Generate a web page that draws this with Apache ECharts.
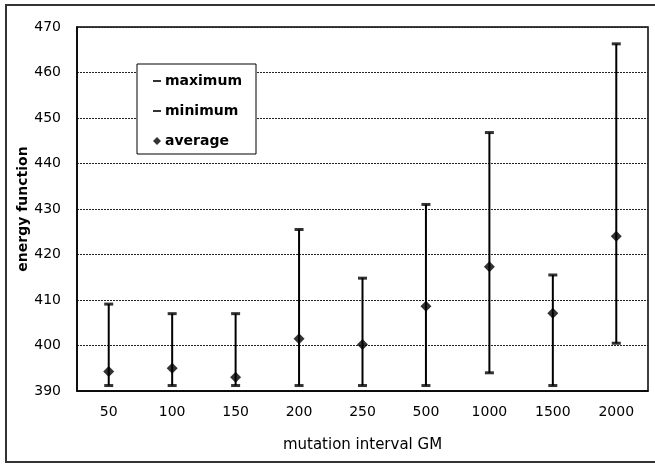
<!DOCTYPE html>
<html>
<head>
<meta charset="utf-8">
<script src="https://cdn.jsdelivr.net/npm/echarts@6/dist/echarts.min.js"></script>
<style>
	html, body { margin: 0; padding: 0; background: #fff; }
	#main { width: 655px; height: 464px; }
</style>
</head>
<body>
<div id="main"></div>
<script>
var categories = ['50', '100', '150', '200', '250', '500', '1000', '1500', '2000'];
var maxValues = [409.1, 407.0, 407.0, 425.5, 414.8, 431.0, 446.8, 415.5, 466.3];
var minValues = [391.2, 391.2, 391.2, 391.2, 391.2, 391.2, 394.0, 391.2, 400.5];
var avgValues = [394.3, 395.0, 393.0, 401.5, 400.2, 408.6, 417.3, 407.1, 424.0];

var rangeData = [];
categories.map(function(c, i) {
	rangeData.push([i, minValues[i], maxValues[i]]);
});

var dashIcon = 'path://M0,0L0,0M0,3H8V5H0ZM8,8L8,8';

var myChart = echarts.init(document.getElementById('main'));
var option = {
	backgroundColor: '#fff',
	animation: false,
	textStyle: {
		fontFamily: 'DejaVu Sans'
	},
	grid: {
		left: 77,
		right: 7,
		top: 27,
		bottom: 73,
		show: true,
		borderColor: '#000',
		borderWidth: 1.5
	},
	graphic: [{
		type: 'rect',
		shape: { x: 6, y: 5, width: 660, height: 457 },
		style: { fill: 'none', stroke: '#333', lineWidth: 2 },
		silent: true,
		z: -1
	}],
	legend: {
		left: 137,
		top: 64,
		orient: 'vertical',
		backgroundColor: '#fff',
		borderColor: '#000',
		borderWidth: 1,
		padding: [10, 14, 6, 16],
		itemGap: 16,
		itemWidth: 8,
		itemHeight: 8,
		textStyle: {
			fontFamily: 'DejaVu Sans',
			fontSize: 14,
			fontWeight: 'bold',
			color: '#000',
			padding: [0, 0, 0, -1]
		},
		data: [
			{ name: 'maximum', icon: dashIcon },
			{ name: 'minimum', icon: dashIcon },
			{ name: 'average', icon: 'diamond' }
		]
	},
	xAxis: {
		type: 'category',
		data: categories,
		name: 'mutation interval GM',
		nameLocation: 'middle',
		nameGap: 47,
		nameTextStyle: { fontSize: 15, color: '#000' },
		axisLine: { lineStyle: { color: '#000', width: 1.5 } },
		axisTick: { inside: true, length: 5, lineStyle: { color: '#000' } },
		axisLabel: { fontSize: 14, color: '#000', margin: 14 }
	},
	yAxis: {
		type: 'value',
		min: 390,
		max: 470,
		interval: 10,
		name: 'energy function',
		nameLocation: 'middle',
		nameMoveOverlap: false,
		nameGap: 47,
		nameTextStyle: { fontSize: 14, fontWeight: 'bold', color: '#000' },
		axisLine: { show: true, lineStyle: { color: '#000', width: 1.5 } },
		axisTick: { show: false },
		axisLabel: { fontSize: 14, color: '#000', margin: 16 },
		splitLine: {
			lineStyle: { color: '#222', type: [2, 1], width: 1 }
		}
	},
	series: [{
		name: 'range',
		type: 'custom',
		data: rangeData,
		renderItem: function(params, api) {
			var lo = api.coord([api.value(0), api.value(1)]);
			var hi = api.coord([api.value(0), api.value(2)]);
			return {
				type: 'line',
				shape: { x1: lo[0], y1: lo[1], x2: hi[0], y2: hi[1] },
				style: { stroke: '#000', lineWidth: 2 }
			};
		},
		z: 1
	}, {
		name: 'maximum',
		type: 'scatter',
		data: maxValues,
		symbol: 'rect',
		symbolSize: [9, 3],
		itemStyle: { color: '#000' },
		z: 2
	}, {
		name: 'minimum',
		type: 'scatter',
		data: minValues,
		symbol: 'rect',
		symbolSize: [9, 3],
		itemStyle: { color: '#000' },
		z: 2
	}, {
		name: 'average',
		type: 'scatter',
		data: avgValues,
		symbol: 'diamond',
		symbolSize: 11,
		itemStyle: { color: '#000' },
		z: 3
	}]
};
myChart.setOption(option);
</script>
</body>
</html>
